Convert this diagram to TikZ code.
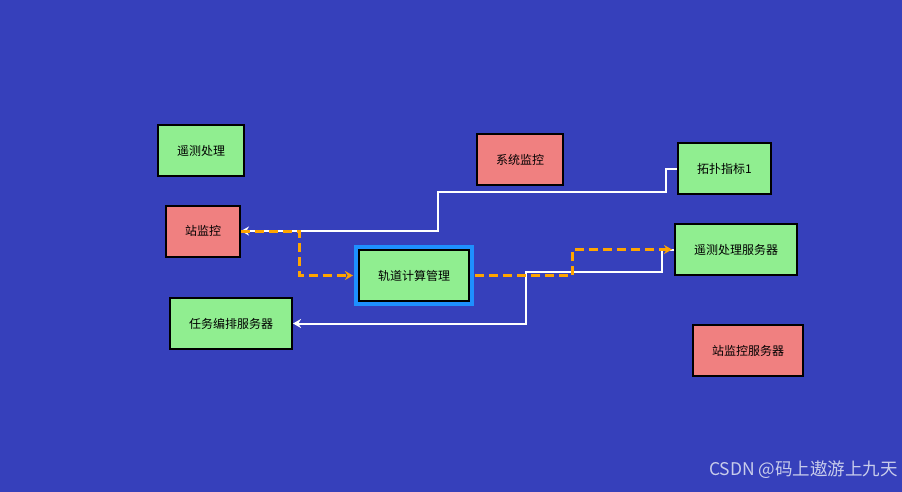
\documentclass[tikz,border=0pt]{standalone}
\usepackage{fontspec}
\setmainfont{Noto Sans CJK SC}
\usetikzlibrary{arrows.meta}
\definecolor{bgblue}{RGB}{54,64,187}
\definecolor{boxgreen}{RGB}{144,238,144}
\definecolor{boxred}{RGB}{240,128,128}
\definecolor{selblue}{RGB}{30,144,255}
\definecolor{flow}{RGB}{255,165,0}
\definecolor{wmgray}{RGB}{200,204,235}

\begin{document}
\begin{tikzpicture}[x=1pt,y=-1pt]
\tikzstyle{every node}+=[inner sep=0pt, font=\fontsize{12}{14}\selectfont]
\tikzstyle{gbox}=[draw=black, line width=2pt, fill=boxgreen, minimum height=51pt]
\tikzstyle{rbox}=[draw=black, line width=2pt, fill=boxred, minimum height=51pt]
\tikzstyle{wline}=[white, line width=2pt, -{Stealth[length=8pt,width=9pt]}]
\tikzstyle{oline}=[flow, line width=3pt, dash pattern=on 9pt off 5pt, -{Stealth[length=8pt,width=9pt]}]
\fill [bgblue] (0,0) rectangle (902,492);
% boxes
\node [gbox, minimum width=86pt] (yaoce) at (201,150.5) {遥测处理};
\node [rbox, minimum width=74pt] (zhan) at (203,231) {站监控};
\node [gbox, minimum width=122pt] (renwu) at (231,323.5) {任务编排服务器};
\node [gbox, minimum width=110pt, preaction={draw=selblue, line width=10pt}] (guidao) at (414,275.5) {轨道计算管理};
\node [rbox, minimum width=86pt] (xitong) at (520,159.5) {系统监控};
\node [gbox, minimum width=93pt] (tuopu) at (724.5,168.5) {拓扑指标1};
\node [gbox, minimum width=122pt] (ysserver) at (736,249.5) {遥测处理服务器};
\node [rbox, minimum width=110pt] (zhanserver) at (748,350.5) {站监控服务器};
% links
\draw [wline] (tuopu.west) -| (666,192) -| (438,231) -- (zhan.east);
\draw [wline] (ysserver.west) -| (662,272) -| (526,323.5) -- (renwu.east);
\draw [oline, shorten >=5pt] (zhan.east) -| (299,275.5) -- (guidao.west);
\draw [oline, shorten <=5pt, shorten >=2pt] (guidao.east) -| (572,249.5) -- (ysserver.west);
\node [wmgray, font=\fontsize{17.5}{20}\selectfont, anchor=east] (wm) at (898,470) {CSDN @码上遨游上九天};
\end{tikzpicture}
\end{document}
